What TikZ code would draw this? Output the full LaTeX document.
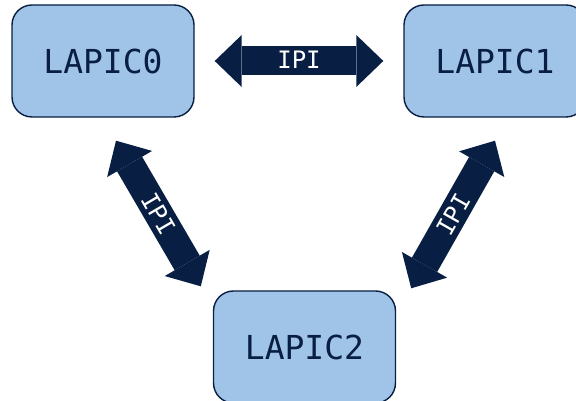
\documentclass[tikz,border=0pt]{standalone}
\usepackage{fontspec}
\setmonofont{DejaVu Sans Mono}
\usetikzlibrary{arrows.meta,calc}
\definecolor{boxfill}{RGB}{160,196,232}
\definecolor{navy}{RGB}{8,30,66}
\begin{document}
\begin{tikzpicture}[x=1pt,y=1pt,
  apic/.style={draw=navy, line width=1.4pt, fill=boxfill, rounded corners=20pt,
    minimum width=182pt, minimum height=112pt, inner sep=0pt,
    text=navy, font=\ttfamily\fontsize{33}{40}\selectfont},
  ipiarrow/.style={draw=navy, line width=29pt,
    {Triangle[width=52pt,length=27pt,line width=0pt]}-{Triangle[width=52pt,length=27pt,line width=0pt]}},
  ipilabel/.style={text=white, font=\ttfamily\fontsize{24}{28}\selectfont, inner sep=0pt}]
\useasboundingbox (0,0) rectangle (576,401);
\node[apic] (a) at (103,340) {LAPIC0};
\node[apic] (b) at (495,340) {LAPIC1};
\node[apic] (c) at (304.5,54) {LAPIC2};
\coordinate (h1) at ([xshift=20pt]a.east);
\coordinate (h2) at ([xshift=-20pt]b.west);
\coordinate (l1) at ([shift={(13pt,-23pt)}]a.south);
\coordinate (l2) at ([shift={(-12pt,4pt)}]c.north west);
\coordinate (r1) at ([yshift=-23pt]b.south);
\coordinate (r2) at ([shift={(15pt,2pt)}]c.north east);
\draw[ipiarrow] (h1) -- node[ipilabel, yshift=1pt] (t1) {IPI} (h2);
\draw[ipiarrow] (l1) -- node[ipilabel, sloped] (t2) {IPI} (l2);
\draw[ipiarrow] (r1) -- node[ipilabel, sloped] (t3) {IPI} (r2);
\end{tikzpicture}
\end{document}
